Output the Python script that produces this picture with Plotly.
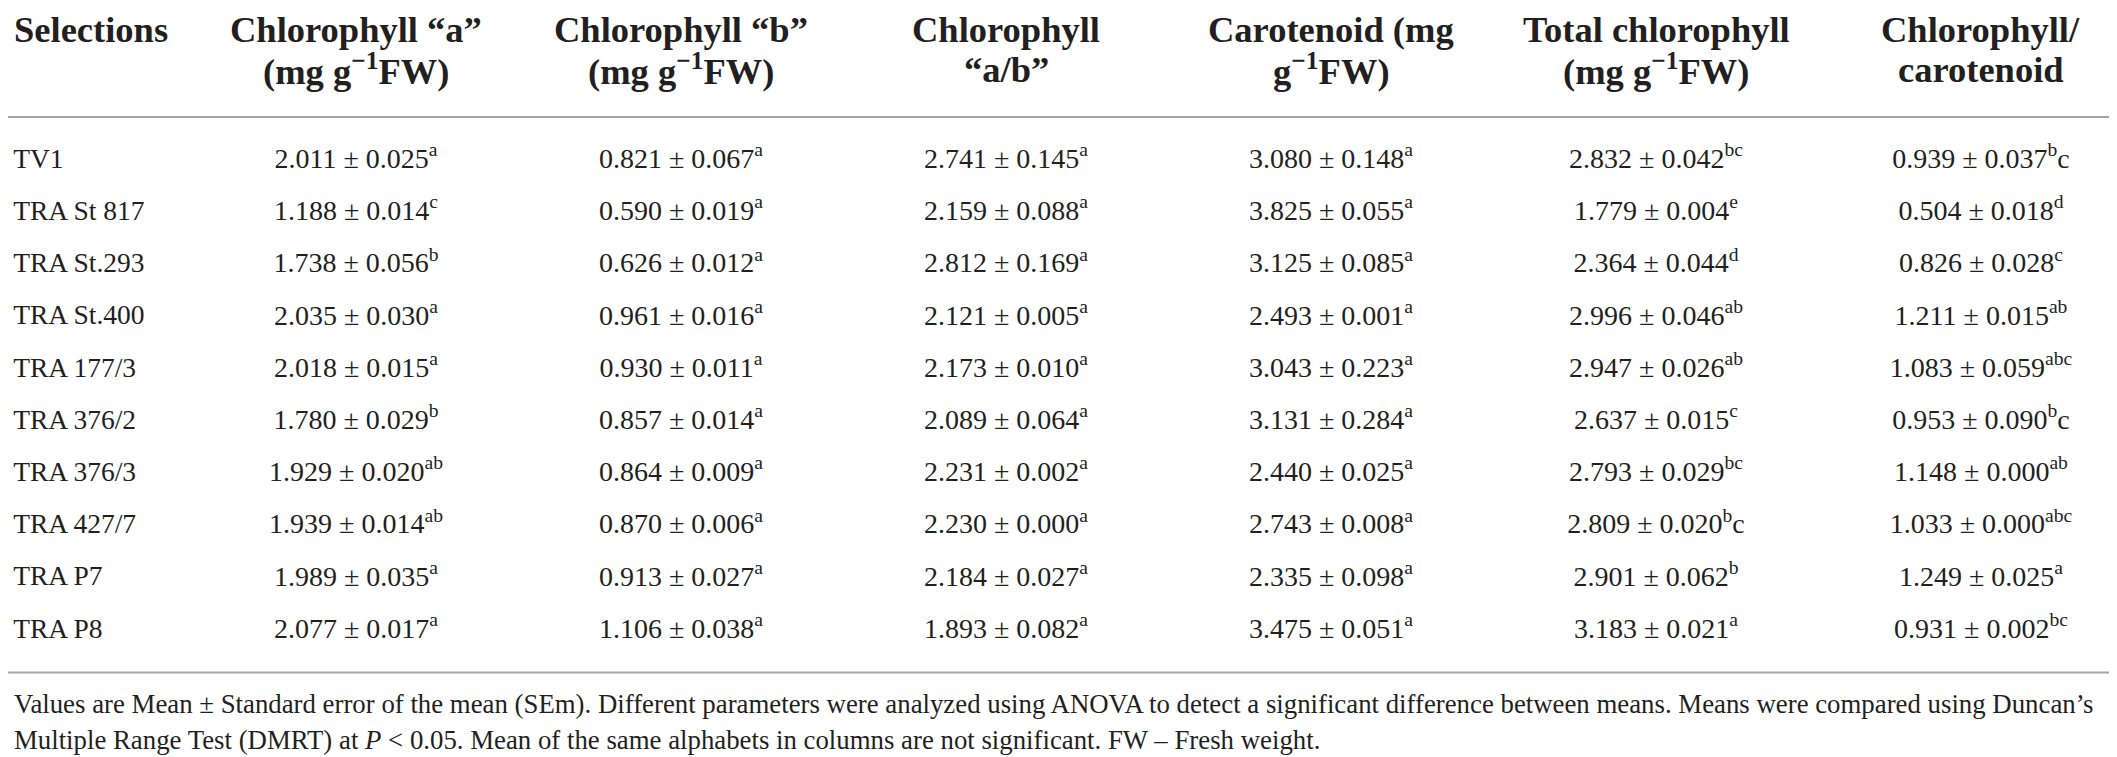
import plotly.graph_objects as go

# table data
selections = ["TV1", "TRA St 817", "TRA St.293", "TRA St.400", "TRA 177/3",
              "TRA 376/2", "TRA 376/3", "TRA 427/7", "TRA P7", "TRA P8"]

header_line1 = ["Selections", "Chlorophyll “a”", "Chlorophyll “b”", "Chlorophyll",
                "Carotenoid (mg", "Total chlorophyll", "Chlorophyll/"]
header_line2 = ["", "(mg g<sup>−1</sup>FW)", "(mg g<sup>−1</sup>FW)", "“a/b”",
                "g<sup>−1</sup>FW)", "(mg g<sup>−1</sup>FW)", "carotenoid"]

chl_a_mean = [2.011, 1.188, 1.738, 2.035, 2.018, 1.780, 1.929, 1.939, 1.989, 2.077]
chl_a_se = [0.025, 0.014, 0.056, 0.030, 0.015, 0.029, 0.020, 0.014, 0.035, 0.017]
chl_a_grp = ["a", "c", "b", "a", "a", "b", "ab", "ab", "a", "a"]

chl_b_mean = [0.821, 0.590, 0.626, 0.961, 0.930, 0.857, 0.864, 0.870, 0.913, 1.106]
chl_b_se = [0.067, 0.019, 0.012, 0.016, 0.011, 0.014, 0.009, 0.006, 0.027, 0.038]
chl_b_grp = ["a"] * 10

ratio_ab_mean = [2.741, 2.159, 2.812, 2.121, 2.173, 2.089, 2.231, 2.230, 2.184, 1.893]
ratio_ab_se = [0.145, 0.088, 0.169, 0.005, 0.010, 0.064, 0.002, 0.000, 0.027, 0.082]
ratio_ab_grp = ["a"] * 10

carot_mean = [3.080, 3.825, 3.125, 2.493, 3.043, 3.131, 2.440, 2.743, 2.335, 3.475]
carot_se = [0.148, 0.055, 0.085, 0.001, 0.223, 0.284, 0.025, 0.008, 0.098, 0.051]
carot_grp = ["a"] * 10

total_mean = [2.832, 1.779, 2.364, 2.996, 2.947, 2.637, 2.793, 2.809, 2.901, 3.183]
total_se = [0.042, 0.004, 0.044, 0.046, 0.026, 0.015, 0.029, 0.020, 0.062, 0.021]
total_grp = ["bc", "e", "d", "ab", "ab", "c", "bc", "b c", "b", "a"]

chl_car_mean = [0.939, 0.504, 0.826, 1.211, 1.083, 0.953, 1.148, 1.033, 1.249, 0.931]
chl_car_se = [0.037, 0.018, 0.028, 0.015, 0.059, 0.090, 0.000, 0.000, 0.025, 0.002]
chl_car_grp = ["b c", "d", "c", "ab", "abc", "b c", "ab", "abc", "a", "bc"]

columns = [
    (chl_a_mean, chl_a_se, chl_a_grp),
    (chl_b_mean, chl_b_se, chl_b_grp),
    (ratio_ab_mean, ratio_ab_se, ratio_ab_grp),
    (carot_mean, carot_se, carot_grp),
    (total_mean, total_se, total_grp),
    (chl_car_mean, chl_car_se, chl_car_grp),
]

footnote1 = ("Values are Mean ± Standard error of the mean (SEm). Different parameters were analyzed "
             "using ANOVA to detect a significant difference between means. Means were compared using Duncan’s")
footnote2 = ("Multiple Range Test (DMRT) at <i>P</i> < 0.05. Mean of the same alphabets in columns "
             "are not significant. FW – Fresh weight.")

FONT = "Liberation Serif"
INK = "#231f20"
RULE = "#a6a6a6"


def cell(m, s, g):
    # "b c" -> superscript b followed by a normal c (as printed in the source)
    parts = g.split(" ")
    txt = f"{m:.3f} ± {s:.3f}<sup>{parts[0]}</sup>"
    if len(parts) > 1:
        txt += parts[1]
    return txt


rows = list(range(len(selections)))
fig = go.Figure()

fig.add_trace(go.Scatter(
    x=[-0.055] * len(rows), y=rows, mode="text", text=selections,
    textposition="middle right", textfont=dict(family=FONT, size=27.5, color=INK),
    hoverinfo="skip", showlegend=False))

for i, (m, s, g) in enumerate(columns, start=1):
    fig.add_trace(go.Scatter(
        x=[i] * len(rows), y=rows, mode="text",
        text=[cell(a, b, c) for a, b, c in zip(m, s, g)],
        textposition="middle center", textfont=dict(family=FONT, size=28, color=INK),
        hoverinfo="skip", showlegend=False))

# header
for i, (l1, l2) in enumerate(zip(header_line1, header_line2)):
    fig.add_annotation(x=i if i else -0.058, y=-2.52, text=f"<b>{l1}</b>", showarrow=False,
                       xanchor="center" if i else "left", yanchor="middle",
                       font=dict(family=FONT, size=36.5, color=INK))
    if l2:
        fig.add_annotation(x=i, y=-1.76, text=f"<b>{l2}</b>", showarrow=False,
                           xanchor="center", yanchor="middle",
                           font=dict(family=FONT, size=36.5, color=INK))

# rules
fig.add_shape(type="line", xref="paper", x0=0, x1=1, y0=-0.843, y1=-0.843,
              line=dict(color=RULE, width=2))
fig.add_shape(type="line", xref="paper", x0=0, x1=1, y0=9.8, y1=9.8,
              line=dict(color=RULE, width=2))

# footnote
fig.add_annotation(x=-0.058, y=10.4, text=footnote1, showarrow=False, xanchor="left",
                   yanchor="middle", font=dict(family=FONT, size=26.8, color=INK))
fig.add_annotation(x=-0.058, y=11.1, text=footnote2, showarrow=False, xanchor="left",
                   yanchor="middle", font=dict(family=FONT, size=26.8, color=INK))

fig.update_xaxes(range=[-0.0708, 6.4431], visible=False, fixedrange=True)
fig.update_yaxes(range=[11.571, -2.931], visible=False, fixedrange=True)
fig.update_layout(width=2117, height=757, margin=dict(l=0, r=0, t=0, b=0),
                  plot_bgcolor="white", paper_bgcolor="white")

fig.write_html("out.html")
